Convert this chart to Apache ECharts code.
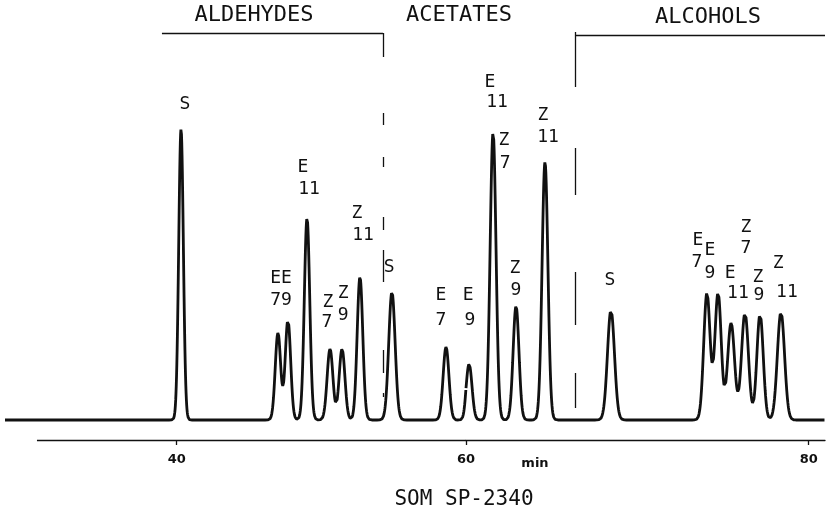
<!DOCTYPE html>
<html>
<head>
<meta charset="utf-8">
<script src="https://cdn.jsdelivr.net/npm/echarts@6/dist/echarts.min.js"></script>
<style>
  html, body { margin: 0; padding: 0; background: #fff; }
  #chart { width: 827px; height: 520px; }
</style>
</head>
<body>
<div id="chart"></div>
<script>
// peaks of the chromatogram (retention in min, height above baseline, sigma in min)
var peakTimes   = [40.30, 47.00, 47.69, 49.01, 50.60, 51.43, 52.67, 54.88, 58.62, 60.18,
                   61.58, 62.92, 64.61, 68.46, 74.06, 74.71, 75.47, 76.28, 77.16, 78.38];
var peakHeights = [116.4, 34.8, 40.0, 80.8, 28.4, 28.4, 57.2, 51.2, 29.2, 22.4,
                   115.2, 45.6, 103.2, 44.0, 50.8, 50.8, 38.8, 42.8, 42.4, 43.2];
var peakSigmas  = [0.16, 0.187, 0.187, 0.187, 0.20, 0.20, 0.194, 0.221, 0.20, 0.17,
                   0.17, 0.17, 0.17, 0.204, 0.187, 0.187, 0.204, 0.204, 0.187, 0.21];

// x tick labels (the recorder chart paper is not linear: two segments)
var ticksLeft  = [40];
var ticksRight = [60, 80];

// peak annotations: [min, height, text]
var labelsLeft = [
  [40.57, 126.4, 'S'],
  [47.21, 56.8, 'EE'], [47.21, 48.0, '79'],
  [48.73, 101.2, 'E'], [49.15, 92.4, '11'],
  [50.46, 47.2, 'Z'], [50.39, 39.2, '7'],
  [51.50, 50.8, 'Z'], [51.50, 42.0, '9'],
  [52.46, 82.8, 'Z'], [52.88, 74.0, '11'],
  [54.68, 61.2, 'S'],
  [58.27, 50.0, 'E'], [58.27, 40.0, '7']
];
var labelsRight = [
  [60.12, 50.0, 'E'], [60.23, 40.0, '9'],
  [61.40, 135.2, 'E'], [61.81, 127.2, '11'],
  [62.22, 112.0, 'Z'], [62.28, 102.8, '7'],
  [62.86, 60.8, 'Z'], [62.92, 52.0, '9'],
  [64.49, 122.0, 'Z'], [64.79, 113.2, '11'],
  [68.40, 56.0, 'S'],
  [73.54, 72.0, 'E'], [73.48, 63.2, '7'],
  [74.24, 68.0, 'E'], [74.24, 58.8, '9'],
  [75.41, 58.8, 'E'], [75.87, 50.8, '11'],
  [76.34, 77.2, 'Z'], [76.34, 68.8, '7'],
  [77.04, 57.2, 'Z'], [77.10, 50.0, '9'],
  [78.21, 62.8, 'Z'], [78.73, 51.2, '11']
];

var xLeftMin = 28.13, xMid = 60, xRightMax = 80.95;
var yMin = -8, yMax = 162;

function trace(from, to) {
  var pts = [];
  var step = 0.02;
  for (var t = from; t <= to + 1e-9; t += step) {
    var v = 0;
    for (var i = 0; i < peakTimes.length; i++) {
      var d = t - peakTimes[i];
      v += peakHeights[i] * Math.exp(-d * d / (2 * peakSigmas[i] * peakSigmas[i]));
    }
    pts.push([+t.toFixed(3), v]);
  }
  return pts;
}

function seg(x1, y1, x2, y2) {
  return [{ coord: [x1, y1] }, { coord: [x2, y2] }];
}

var monoFont = '"DejaVu Sans Mono", monospace';
var ink = '#111';

var chart = echarts.init(document.getElementById('chart'), null, { renderer: 'canvas' });

var labelStyle = {
  show: true,
  position: 'inside',
  formatter: function (p) { return p.data[2]; },
  fontFamily: monoFont,
  fontSize: 18,
  color: ink
};

var dividerStyle = { color: ink, width: 1.3, type: 'solid' };
var tickLabel = { margin: 13, color: ink, fontFamily: 'DejaVu Sans', fontWeight: 'bold', fontSize: 13 };

var option = {
  animation: false,
  backgroundColor: '#fff',
  grid: [
    { left: 5, width: 461, top: 15, height: 425 },
    { left: 466, width: 359, top: 15, height: 425 }
  ],
  xAxis: [
    {
      gridIndex: 0, type: 'value', min: xLeftMin, max: xMid,
      axisLine: { show: false, onZero: false },
      splitLine: { show: false },
      axisTick: { show: true, customValues: ticksLeft, length: 5, lineStyle: { color: ink, width: 1.3 } },
      axisLabel: Object.assign({ show: true, customValues: ticksLeft }, tickLabel)
    },
    {
      gridIndex: 1, type: 'value', min: xMid, max: xRightMax,
      axisLine: { show: true, onZero: false, lineStyle: { color: ink, width: 1.3 } },
      splitLine: { show: false },
      axisTick: { show: true, customValues: ticksRight, length: 5, lineStyle: { color: ink, width: 1.3 } },
      axisLabel: Object.assign({ show: true, customValues: ticksRight }, tickLabel)
    }
  ],
  yAxis: [
    { gridIndex: 0, type: 'value', min: yMin, max: yMax, show: false },
    { gridIndex: 1, type: 'value', min: yMin, max: yMax, show: false }
  ],
  graphic: [
    { type: 'text', style: { text: 'ALDEHYDES', x: 254, y: 15, align: 'center', verticalAlign: 'middle', font: '22px ' + monoFont, fill: ink } },
    { type: 'text', style: { text: 'ACETATES', x: 459, y: 15, align: 'center', verticalAlign: 'middle', font: '22px ' + monoFont, fill: ink } },
    { type: 'text', style: { text: 'ALCOHOLS', x: 708, y: 17, align: 'center', verticalAlign: 'middle', font: '22px ' + monoFont, fill: ink } },
    { type: 'text', style: { text: 'min', x: 535, y: 464, align: 'center', verticalAlign: 'middle', font: 'bold 13px "DejaVu Sans"', fill: ink } },
    { type: 'text', style: { text: 'SOM SP-2340', x: 464, y: 500, align: 'center', verticalAlign: 'middle', font: '21px ' + monoFont, fill: ink } }
  ],
  series: [
    {
      type: 'line', xAxisIndex: 0, yAxisIndex: 0,
      data: trace(xLeftMin, xMid),
      showSymbol: false, smooth: false, silent: true,
      lineStyle: { color: ink, width: 2.8 },
      markLine: {
        silent: true, symbol: ['none', 'none'], label: { show: false },
        lineStyle: dividerStyle,
        data: [
          seg(30.34, yMin, 60, yMin),
          // aldehydes bracket
          seg(38.98, 154.8, 54.26, 154.8),
          seg(54.26, 154.8, 54.26, 145.2),
          seg(54.26, 122.8, 54.26, 118.0),
          seg(54.26, 105.2, 54.26, 101.2),
          seg(54.26, 81.2, 54.26, 76.0),
          seg(54.26, 68.0, 54.26, 55.2),
          seg(54.26, 28.0, 54.26, 18.8),
          seg(54.26, 10.8, 54.26, 9.2)
        ]
      }
    },
    {
      type: 'line', xAxisIndex: 1, yAxisIndex: 1,
      data: trace(xMid, xRightMax),
      showSymbol: false, smooth: false, silent: true,
      lineStyle: { color: ink, width: 2.8 },
      markLine: {
        silent: true, symbol: ['none', 'none'], label: { show: false },
        lineStyle: dividerStyle,
        data: [
          // alcohols bracket
          seg(66.36, 154.0, 80.95, 154.0),
          seg(66.36, 155.2, 66.36, 133.2),
          seg(66.36, 108.8, 66.36, 90.0),
          seg(66.36, 59.2, 66.36, 38.0),
          seg(66.36, 18.8, 66.36, 4.8)
        ]
      }
    },
    {
      type: 'scatter', xAxisIndex: 0, yAxisIndex: 0,
      data: labelsLeft, symbolSize: 0, silent: true,
      itemStyle: { opacity: 1 },
      label: labelStyle
    },
    {
      type: 'scatter', xAxisIndex: 1, yAxisIndex: 1,
      data: labelsRight, symbolSize: 0, silent: true,
      itemStyle: { opacity: 1 },
      label: labelStyle
    }
  ]
};

chart.setOption(option);
</script>
</body>
</html>
